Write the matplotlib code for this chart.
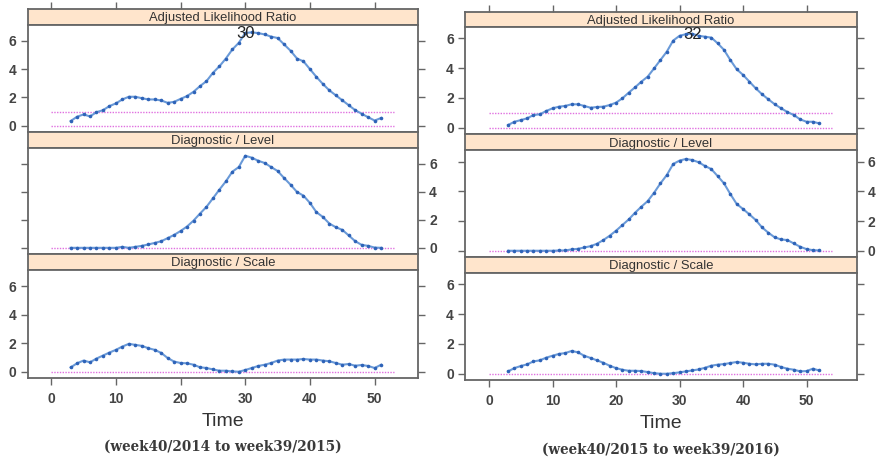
import matplotlib
matplotlib.use("Agg")
import matplotlib.pyplot as plt

# ---------------- data ----------------
weeks_a = list(range(3, 52))   # season week40/2014 - week39/2015
weeks_b = list(range(3, 53))   # season week40/2015 - week39/2016

alr_a = [0.33, 0.64, 0.80, 0.66, 0.96, 1.10, 1.39, 1.58, 1.86, 2.05, 2.05, 1.95, 1.86, 1.86,
         1.79, 1.62, 1.69, 1.90, 2.10, 2.40, 2.80, 3.15, 3.74, 4.20, 4.75, 5.39, 5.86, 6.56,
         6.60, 6.55, 6.45, 6.30, 6.20, 5.75, 5.30, 4.75, 4.55, 4.00, 3.45, 2.95, 2.50, 2.15,
         1.80, 1.45, 1.10, 0.85, 0.60, 0.37, 0.55]
lvl_a = [0.0, 0.0, 0.0, 0.0, 0.0, 0.0, 0.0, 0.0, 0.07, 0.0, 0.07, 0.14, 0.24, 0.35,
         0.47, 0.69, 0.92, 1.20, 1.52, 1.94, 2.44, 2.92, 3.53, 4.15, 4.74, 5.43, 5.76, 6.57,
         6.43, 6.21, 6.05, 5.76, 5.48, 4.98, 4.50, 3.98, 3.72, 3.20, 2.54, 2.20, 1.73, 1.47,
         1.28, 0.88, 0.47, 0.21, 0.14, 0.02, 0.0]
scl_a = [0.30, 0.59, 0.78, 0.66, 0.92, 1.13, 1.34, 1.53, 1.76, 1.95, 1.88, 1.81, 1.65, 1.53,
         1.32, 0.96, 0.71, 0.61, 0.59, 0.49, 0.31, 0.26, 0.16, 0.07, 0.07, 0.02, 0.0, 0.12,
         0.26, 0.40, 0.49, 0.61, 0.78, 0.85, 0.85, 0.85, 0.89, 0.85, 0.85, 0.78, 0.73, 0.61,
         0.49, 0.54, 0.42, 0.47, 0.40, 0.26, 0.49]

alr_b = [0.18, 0.40, 0.51, 0.63, 0.85, 0.90, 1.12, 1.30, 1.41, 1.46, 1.57, 1.57, 1.46, 1.34,
         1.39, 1.41, 1.52, 1.68, 1.97, 2.35, 2.71, 3.09, 3.43, 3.98, 4.54, 5.10, 5.84, 6.16,
         6.27, 6.30, 6.16, 6.10, 6.04, 5.66, 5.22, 4.54, 3.92, 3.54, 3.09, 2.64, 2.24, 1.90,
         1.57, 1.30, 1.05, 0.85, 0.56, 0.40, 0.40, 0.29]
lvl_b = [0.0, 0.0, 0.0, 0.0, 0.0, 0.0, 0.0, 0.0, 0.02, 0.02, 0.09, 0.13, 0.22, 0.31,
         0.47, 0.72, 1.01, 1.35, 1.73, 2.11, 2.56, 2.97, 3.35, 3.91, 4.54, 5.10, 5.84, 6.07,
         6.18, 6.11, 5.96, 5.71, 5.50, 5.03, 4.54, 3.82, 3.15, 2.81, 2.45, 2.07, 1.57, 1.21,
         0.90, 0.76, 0.72, 0.49, 0.27, 0.11, 0.04, 0.02]
scl_b = [0.16, 0.38, 0.52, 0.63, 0.83, 0.90, 1.08, 1.21, 1.33, 1.39, 1.53, 1.44, 1.21, 1.06,
         0.90, 0.74, 0.54, 0.38, 0.27, 0.20, 0.20, 0.18, 0.11, 0.04, 0.0, 0.0, 0.04, 0.09,
         0.16, 0.22, 0.29, 0.40, 0.54, 0.61, 0.65, 0.72, 0.79, 0.74, 0.67, 0.63, 0.67, 0.67,
         0.61, 0.45, 0.34, 0.27, 0.16, 0.18, 0.34, 0.22]

panel_titles = ["Adjusted Likelihood Ratio", "Diagnostic / Level", "Diagnostic / Scale"]
peak_week_a, peak_week_b = 30, 32
ref_end_a, ref_end_b = 53, 54
x_ticks = [0, 10, 20, 30, 40, 50]
y_ticks = [0, 2, 4, 6]
subtitles = ["(week40/2014 to week39/2015)", "(week40/2015 to week39/2016)"]

# ---------------- style ----------------
W, H = 880, 461
fig = plt.figure(figsize=(W / 100, H / 100), dpi=100)
plt.rcParams['font.family'] = ['Liberation Sans', 'DejaVu Sans']

FRAME = '#666666'
STRIP = '#ffe5cc'
LINE = '#6a9ad8'
MARK = '#2e63b8'
REF = '#e070e0'
TXT = '#333333'


def box(x0, y0, x1, y1):
    return [x0 / W, 1 - y1 / H, (x1 - x0) / W, (y1 - y0) / H]


def style_frame(ax):
    for s in ax.spines.values():
        s.set_color(FRAME)
        s.set_linewidth(1.3)


def draw_chart(x0, x1, bounds, xlim, ylim, weeks, series, peak_week, ref_end, subtitle, title_y, sub_y):
    for i in range(3):
        st_top, st_bot = bounds[2 * i], bounds[2 * i + 1]
        p_bot = bounds[2 * i + 2]
        # strip
        sax = fig.add_axes(box(x0, st_top, x1, st_bot))
        sax.set_facecolor(STRIP)
        sax.set_xlim(*xlim)
        sax.set_ylim(0, 1)
        sax.set_yticks([])
        style_frame(sax)
        if i == 0:
            sax.xaxis.tick_top()
            sax.set_xticks(x_ticks)
            sax.set_xticklabels([])
            sax.tick_params(axis='x', length=5, width=1, color=FRAME, direction='out')
        else:
            sax.set_xticks([])
        sax.text(0.5, 0.42, panel_titles[i], transform=sax.transAxes, ha='center', va='center',
                 fontsize=9.4, color=TXT)
        # panel
        ax = fig.add_axes(box(x0, st_bot, x1, p_bot))
        style_frame(ax)
        ax.set_xlim(*xlim)
        ax.set_ylim(*ylim)
        ax.hlines(0, 0, ref_end, colors=REF, linestyles=(0, (1, 1)), linewidth=1.0, zorder=1)
        if i == 0:
            ax.hlines(1, 0, ref_end, colors=REF, linestyles=(0, (1, 1)), linewidth=1.0, zorder=1)
        ax.plot(weeks, series[i], color=LINE, linewidth=1.5, zorder=2)
        ax.plot(weeks, series[i], linestyle='none', marker='o', markersize=2.6,
                color=MARK, markeredgewidth=0, zorder=3)
        if i == 0:
            pk = series[0][weeks.index(peak_week)]
            ax.text(peak_week, pk - 0.05, str(peak_week), ha='center', va='center', fontsize=12,
                    color='#222222', zorder=4)
        ax.set_yticks(y_ticks)
        ax.tick_params(axis='both', length=5, width=1, color=FRAME, labelsize=10,
                       labelcolor='#444444', direction='out', pad=3)
        ax.tick_params(axis='y', left=True, right=True)
        if i == 1:
            ax.tick_params(axis='y', labelleft=False, labelright=True)
        else:
            ax.tick_params(axis='y', labelleft=True, labelright=False)
        for lab in ax.get_yticklabels():
            lab.set_fontweight('bold')
        if i == 2:
            ax.set_xticks(x_ticks)
            ax.tick_params(axis='x', pad=5)
            for lab in ax.get_xticklabels():
                lab.set_fontweight('bold')
        else:
            ax.set_xticks([])
    cx = (x0 + x1) / 2
    fig.text(cx / W, 1 - title_y / H, "Time", ha='center', va='center', fontsize=14, color=TXT)
    fig.text(cx / W, 1 - sub_y / H, subtitle, ha='center', va='center', fontsize=9.8,
             fontweight='bold', color='#3a3a3a', family=['DejaVu Serif', 'Liberation Serif'])


draw_chart(27.5, 418, [9, 25, 132, 148, 254, 270, 378], (-3.66, 56.7), (-0.44, 7.12),
           weeks_a, [alr_a, lvl_a, scl_a], peak_week_a, ref_end_a, subtitles[0], 422, 447)
draw_chart(465, 856.7, [12, 27, 134, 150.5, 257, 273.3, 380], (-3.78, 57.9), (-0.42, 6.75),
           weeks_b, [alr_b, lvl_b, scl_b], peak_week_b, ref_end_b, subtitles[1], 423, 450)

fig.savefig("out.png", dpi=100, facecolor='white')
